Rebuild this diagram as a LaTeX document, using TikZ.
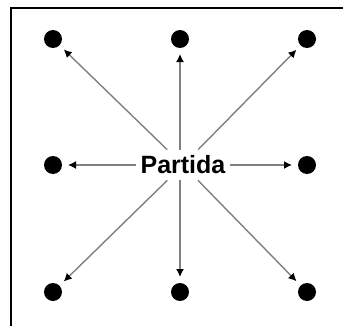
\documentclass[tikz,border=0pt]{standalone}
\usepackage{fontspec}
\usepackage{tikz}
\usetikzlibrary{arrows.meta}
\newfontfamily\labelfont{Liberation Sans}
\tikzset{
  dot/.style={circle,fill=black,inner sep=0mm,minimum size=18pt,outer sep=0pt},
  ray/.style={draw=gray,line width=1.4pt,-{Latex[length=8pt,width=8pt,color=black]},shorten >=6pt}
}

\begin{document}
\begin{tikzpicture}[x=1pt,y=1pt]

\def\xa{53}
\def\xb{180}
\def\xc{307}
\def\ya{286}
\def\yb{160}
\def\yc{33}

\useasboundingbox (0,0) rectangle (343,325);
\fill[white] (0,0) rectangle (343,325);

% frame
\draw[line width=2pt] (11,-10) -- (11,317) -- (360,317);

\node[dot] (nw) at (\xa,\ya) {};
\node[dot] (n) at (\xb,\ya) {};
\node[dot] (ne) at (\xc,\ya) {};
\node[dot] (w) at (\xa,\yb) {};
\node[dot] (e) at (\xc,\yb) {};
\node[dot] (sw) at (\xa,\yc) {};
\node[dot] (s) at (\xb,\yc) {};
\node[dot] (se) at (\xc,\yc) {};

\node[inner xsep=4pt,inner ysep=6pt] (partida) at (183,\yb) {\labelfont\fontsize{25}{28}\selectfont\bfseries Partida};

\draw[ray] (partida) -- (nw);
\draw[ray] (partida.north -| n) -- (n);
\draw[ray] (partida) -- (ne);
\draw[ray] (partida) -- (w);
\draw[ray] (partida) -- (e);
\draw[ray] (partida) -- (sw);
\draw[ray] (partida.south -| s) -- (s);
\draw[ray] (partida) -- (se);

\end{tikzpicture}
\end{document}
